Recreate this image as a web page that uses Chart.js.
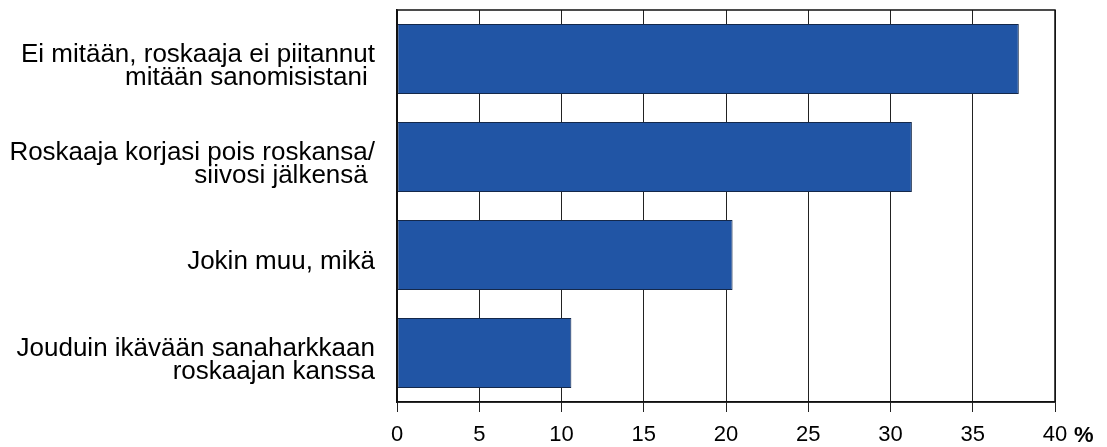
<!DOCTYPE html>
<html>
<head>
<meta charset="utf-8">
<script src="https://cdn.jsdelivr.net/npm/chart.js@4"></script>
<style>
  html, body { margin: 0; padding: 0; background: #fff; }
  #wrap { width: 1107px; height: 447px; }
</style>
</head>
<body>
<div id="wrap"><canvas id="kaavio" width="1107" height="447"></canvas></div>
<script>
// vastausvaihtoehdot ja osuudet (%)
const vaihtoehdot = [
  ["Ei mitään, roskaaja ei piitannut", "mitään sanomisistani "],
  ["Roskaaja korjasi pois roskansa/", "siivosi jälkensä "],
  "Jokin muu, mikä",
  ["Jouduin ikävään sanaharkkaan", "roskaajan kanssa"]
];
const osuudet = [37.8, 31.3, 20.4, 10.6];
const asteikko = [0, 5, 10, 15, 20, 25, 30, 35, 40];
const yksikko = "%";

const fontti = "'Liberation Sans', Arial, sans-serif";

// kehys ja prosenttimerkki
const kehys = {
  id: "kehys",
  afterDraw(chart) {
    const { ctx, chartArea: a, scales } = chart;
    ctx.save();
    ctx.strokeStyle = "#111";
    ctx.lineWidth = 1.5;
    ctx.strokeRect(a.left, a.top, a.right - a.left, a.bottom - a.top);
    const x = scales.x.getPixelForValue(asteikko[asteikko.length - 1]);
    ctx.font = "bold 22px " + fontti;
    ctx.fillStyle = "#000";
    ctx.textBaseline = "middle";
    ctx.textAlign = "left";
    ctx.fillText(yksikko, x + 19, 436);
    ctx.restore();
  }
};

new Chart(document.getElementById("kaavio"), {
  type: "bar",
  data: {
    labels: vaihtoehdot,
    datasets: [{
      data: osuudet,
      backgroundColor: "#2155a5",
      borderColor: "#14284a",
      borderWidth: 1,
      borderSkipped: false,
      barPercentage: 0.714,
      categoryPercentage: 1
    }]
  },
  options: {
    indexAxis: "y",
    responsive: false,
    animation: false,
    layout: { padding: { top: 10, right: 52, left: 0, bottom: 0 } },
    plugins: { legend: { display: false }, tooltip: { enabled: false } },
    scales: {
      x: {
        min: 0,
        max: 40,
        afterBuildTicks: s => { s.ticks = asteikko.map(v => ({ value: v })); },
        afterFit: s => { s.height = 45; },
        grid: { color: "#222", lineWidth: 1, tickLength: 10, drawTicks: true },
        border: { color: "#111", width: 1.5 },
        ticks: { color: "#000", font: { family: fontti, size: 22 }, padding: 10, maxRotation: 0 }
      },
      y: {
        afterFit: s => { s.width = 397; s.paddingTop = 0; s.paddingBottom = 0; },
        grid: { display: false },
        border: { color: "#111", width: 1.5 },
        ticks: {
          color: "#000",
          font: { family: fontti, size: 26, lineHeight: 0.88 },
          padding: 14,
          labelOffset: 7
        }
      }
    }
  },
  plugins: [kehys]
});
</script>
</body>
</html>
